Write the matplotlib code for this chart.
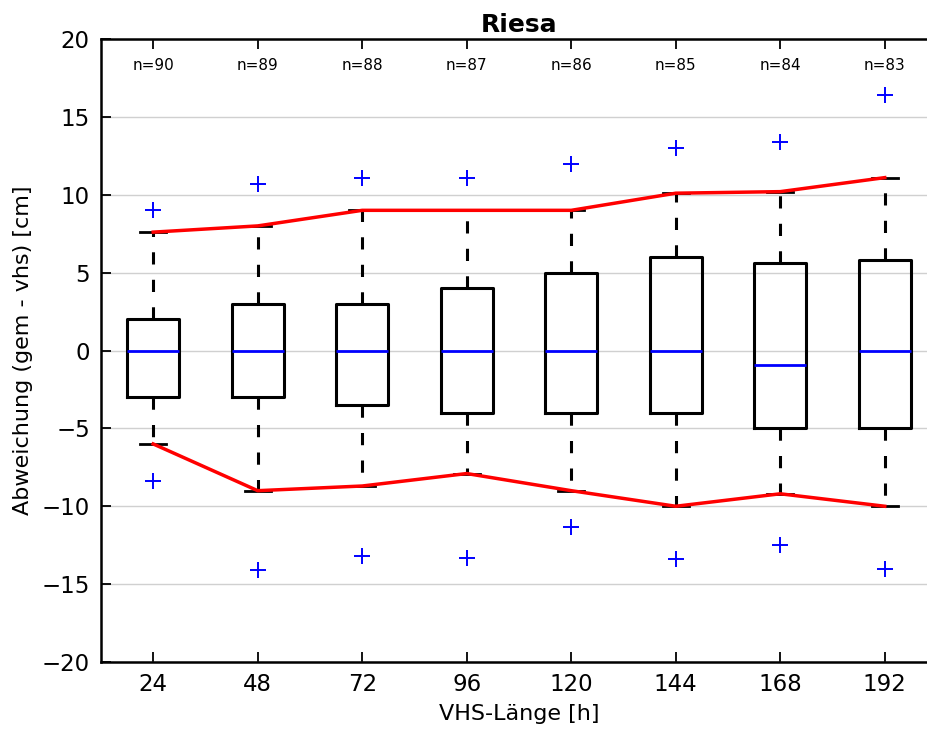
import matplotlib
matplotlib.use("Agg")
import matplotlib.pyplot as plt

# VHS length categories [h]
hours = [24, 48, 72, 96, 120, 144, 168, 192]
n_counts = [90, 89, 88, 87, 86, 85, 84, 83]

# box statistics [cm]
medians = [0, 0, 0, 0, 0, 0, -0.9, 0]
q1 = [-3, -3, -3.5, -4, -4, -4, -5, -5]
q3 = [2, 3, 3, 4, 5, 6, 5.6, 5.8]
whisk_hi = [7.6, 8.0, 9.0, 9.0, 9.0, 10.1, 10.2, 11.1]
whisk_lo = [-6.0, -9.0, -8.7, -7.9, -9.0, -10.0, -9.2, -10.0]
flier_hi = [9.0, 10.7, 11.1, 11.1, 12.0, 13.0, 13.4, 16.4]
flier_lo = [-8.4, -14.1, -13.2, -13.3, -11.3, -13.4, -12.5, -14.0]

stats = []
for i in range(len(hours)):
    stats.append({
        "med": medians[i], "q1": q1[i], "q3": q3[i],
        "whislo": whisk_lo[i], "whishi": whisk_hi[i],
        "fliers": [flier_hi[i], flier_lo[i]],
    })

fig = plt.figure(figsize=(9.28, 7.29), dpi=100)
# the original is cropped on the right, so the axes run past the figure edge
ax = fig.add_axes([0.1088, 0.0919, 0.9009, 0.8546])

pos = list(range(1, len(hours) + 1))
ax.bxp(stats, positions=pos, widths=0.5, capwidths=0.25,
       boxprops=dict(color="black", lw=2.2),
       medianprops=dict(color="blue", lw=2),
       whiskerprops=dict(color="black", lw=2.2, ls=(0, (4, 5))),
       capprops=dict(color="black", lw=2),
       flierprops=dict(marker="+", markeredgecolor="blue", markersize=11,
                       markeredgewidth=1.4, linestyle="none"))

ax.plot(pos, whisk_hi, color="red", lw=2.5, zorder=4)
ax.plot(pos, whisk_lo, color="red", lw=2.5, zorder=4)

for p, n in zip(pos, n_counts):
    ax.text(p, 18.3, f"n={n}", ha="center", va="center", fontsize=11)

ax.set_xlim(0.5, len(hours) + 0.5)
ax.set_ylim(-20, 20)
ax.set_xticks(pos)
ax.set_xticklabels([str(h) for h in hours])
ax.set_yticks(range(-20, 21, 5))
ax.set_yticklabels([str(v).replace("-", "\u2212") for v in range(-20, 21, 5)])
ax.yaxis.grid(True, color="#d0d0d0", lw=1)
ax.set_axisbelow(True)
ax.tick_params(direction="in", top=True, right=False, length=7, width=1.3,
               labelsize=16.5, pad=8)
ax.spines["right"].set_visible(False)
for s in ax.spines.values():
    s.set_linewidth(1.8)

ax.set_xlabel("VHS-Länge [h]", fontsize=16, labelpad=6)
ax.set_ylabel("Abweichung (gem - vhs) [cm]", fontsize=16, labelpad=6)
ax.set_title("Riesa", fontsize=18, fontweight="bold", pad=5)

fig.savefig("out.png", dpi=100)
